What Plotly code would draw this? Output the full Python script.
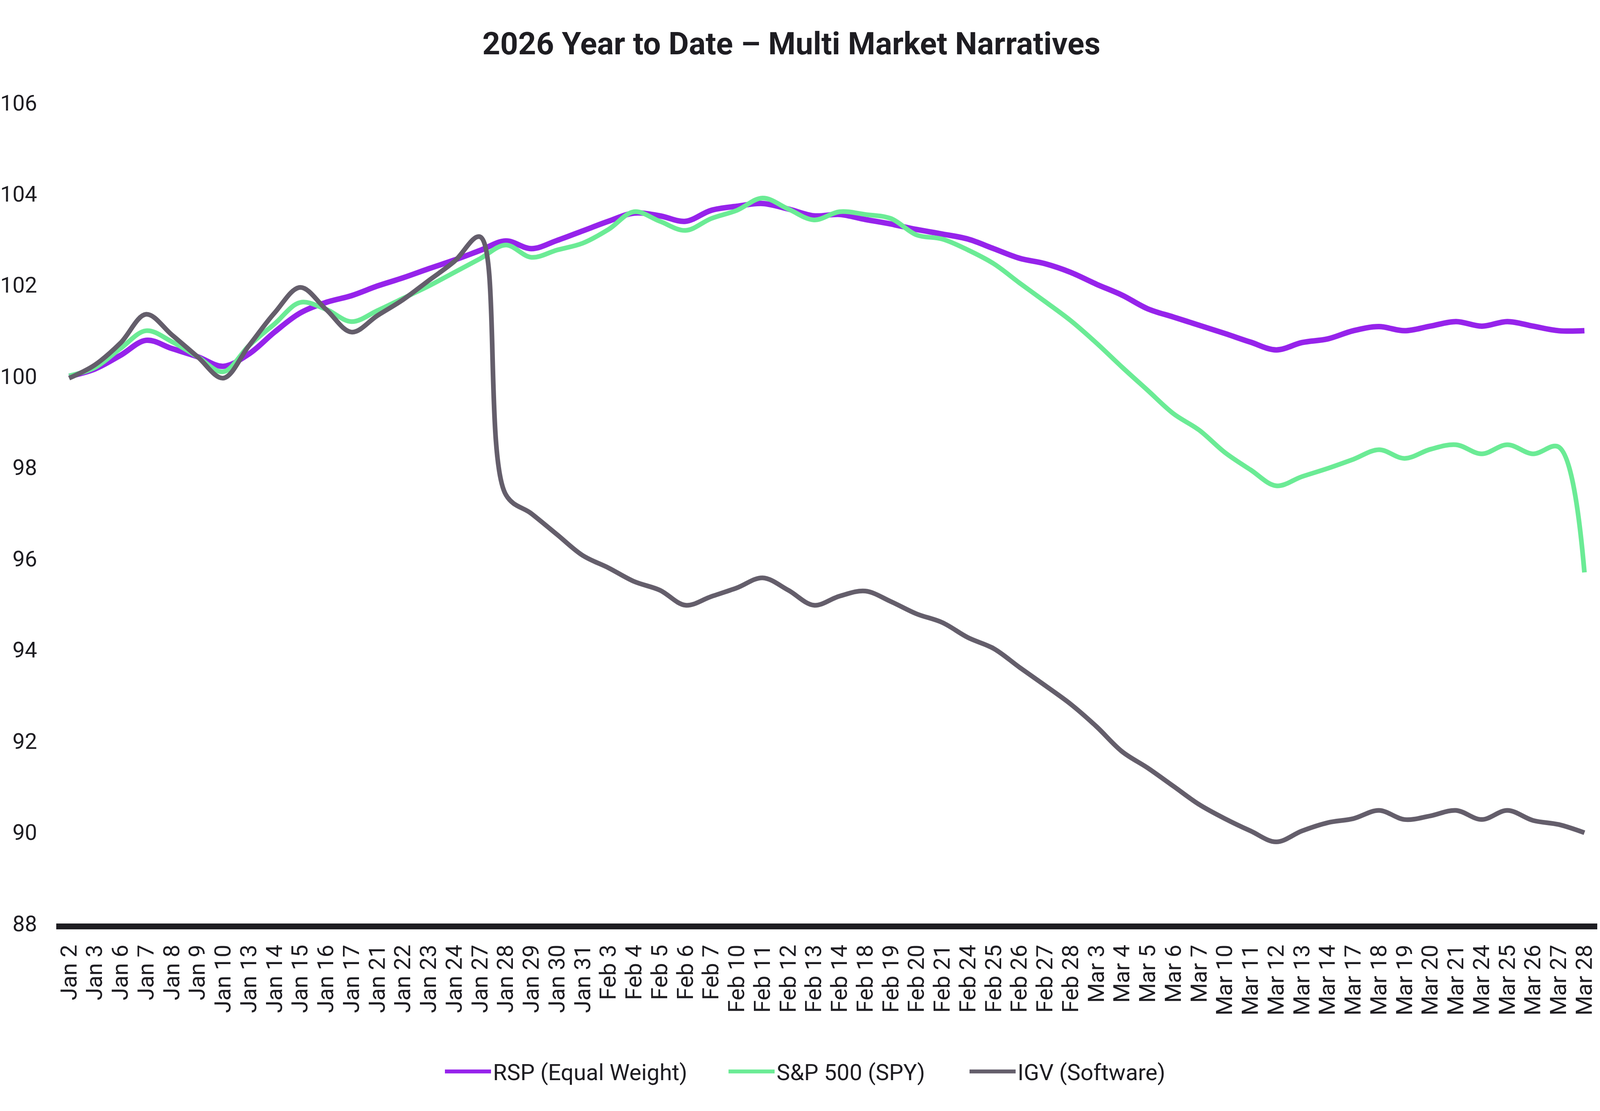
import plotly.graph_objects as go

# trading days shown on the x axis
dates = ["Jan 2", "Jan 3", "Jan 6", "Jan 7", "Jan 8", "Jan 9", "Jan 10", "Jan 13", "Jan 14", "Jan 15",
         "Jan 16", "Jan 17", "Jan 21", "Jan 22", "Jan 23", "Jan 24", "Jan 27", "Jan 28", "Jan 29", "Jan 30",
         "Jan 31", "Feb 3", "Feb 4", "Feb 5", "Feb 6", "Feb 7", "Feb 10", "Feb 11", "Feb 12", "Feb 13",
         "Feb 14", "Feb 18", "Feb 19", "Feb 20", "Feb 21", "Feb 24", "Feb 25", "Feb 26", "Feb 27", "Feb 28",
         "Mar 3", "Mar 4", "Mar 5", "Mar 6", "Mar 7", "Mar 10", "Mar 11", "Mar 12", "Mar 13", "Mar 14",
         "Mar 17", "Mar 18", "Mar 19", "Mar 20", "Mar 21", "Mar 24", "Mar 25", "Mar 26", "Mar 27", "Mar 28"]

rsp = [100.0, 100.16, 100.46, 100.79, 100.61, 100.43, 100.22, 100.49, 100.97, 101.39,
       101.62, 101.77, 101.98, 102.16, 102.36, 102.55, 102.76, 102.97, 102.80, 102.98,
       103.19, 103.40, 103.58, 103.52, 103.40, 103.64, 103.73, 103.79, 103.67, 103.52,
       103.55, 103.44, 103.34, 103.22, 103.12, 103.01, 102.80, 102.59, 102.47, 102.28,
       102.02, 101.78, 101.48, 101.30, 101.12, 100.94, 100.75, 100.58, 100.74, 100.82,
       101.00, 101.09, 101.00, 101.10, 101.20, 101.10, 101.20, 101.10, 101.00, 101.00]

spy = [100.01, 100.19, 100.61, 101.00, 100.76, 100.43, 100.10, 100.67, 101.15, 101.62,
       101.47, 101.20, 101.44, 101.71, 101.98, 102.28, 102.58, 102.88, 102.61, 102.77,
       102.92, 103.22, 103.61, 103.40, 103.20, 103.46, 103.64, 103.91, 103.67, 103.43,
       103.61, 103.55, 103.46, 103.10, 103.01, 102.77, 102.47, 102.05, 101.64, 101.22,
       100.73, 100.20, 99.69, 99.18, 98.82, 98.33, 97.95, 97.60, 97.80, 97.98,
       98.18, 98.39, 98.20, 98.40, 98.50, 98.30, 98.50, 98.30, 98.45, 95.70]

igv = [99.96, 100.25, 100.73, 101.36, 100.91, 100.43, 99.96, 100.67, 101.39, 101.95,
       101.47, 100.97, 101.33, 101.68, 102.10, 102.52, 103.06, 97.41, 96.99, 96.53,
       96.07, 95.80, 95.50, 95.31, 94.98, 95.17, 95.36, 95.58, 95.31, 94.98,
       95.18, 95.29, 95.06, 94.79, 94.60, 94.27, 94.03, 93.62, 93.22, 92.81,
       92.32, 91.77, 91.41, 91.01, 90.61, 90.30, 90.03, 89.79, 90.03, 90.21,
       90.30, 90.48, 90.28, 90.36, 90.48, 90.28, 90.48, 90.26, 90.17, 89.99]

y_ticks = [88, 90, 92, 94, 96, 98, 100, 102, 104, 106]

ink = "#1e1d22"
W, H = 4096, 2844  # the browser caps the window at 4096 wide

fig = go.Figure()
fig.add_trace(go.Scatter(x=dates, y=rsp, mode="lines", name="RSP (Equal Weight)", legend="legend",
                         line=dict(color="#9623eb", width=14, shape="spline", smoothing=1)))
fig.add_trace(go.Scatter(x=dates, y=spy, mode="lines", name="S&P 500 (SPY)", legend="legend2",
                         line=dict(color="#6beb95", width=12, shape="spline", smoothing=1)))
fig.add_trace(go.Scatter(x=dates, y=igv, mode="lines", name="IGV (Software)", legend="legend3",
                         line=dict(color="#645e6b", width=12, shape="spline", smoothing=1)))


def legend_at(px):
    return dict(orientation="h", xref="container", x=px / W, xanchor="left",
                yref="container", y=0.0355, yanchor="middle",
                font=dict(family="Roboto", size=58, color=ink), itemwidth=118,
                bgcolor="rgba(0,0,0,0)", borderwidth=0)


fig.update_layout(
    width=W, height=H,
    paper_bgcolor="white", plot_bgcolor="white",
    margin=dict(l=144, r=7, t=263, b=480),
    font=dict(family="Roboto", size=58, color=ink),
    title=dict(text="2026 Year to Date – Multi Market Narratives",
               font=dict(family="Roboto", size=80, color=ink, weight="bold"),
               x=0.4946, xref="container", xanchor="center",
               y=0.961, yref="container", yanchor="middle"),
    legend=legend_at(1134),
    legend2=legend_at(1860),
    legend3=legend_at(2477),
    showlegend=True,
)
fig.update_xaxes(type="category", range=[-0.5, 59.5], dtick=1, showgrid=False, zeroline=False,
                 showline=True, linecolor=ink, linewidth=15, automargin=False,
                 tickangle=-90, tickfont=dict(family="Roboto", size=58, color=ink), ticks="",
                 ticklabelstandoff=16)
fig.update_yaxes(range=[88, 106], tickvals=y_ticks, showgrid=False, zeroline=False,
                 showline=False, ticks="", automargin=False,
                 tickfont=dict(family="Roboto", size=56, color=ink),
                 ticklabelstandoff=48)

fig.write_html("out.html", config={"displayModeBar": False},
               post_script="document.body.style.margin = '0';")
